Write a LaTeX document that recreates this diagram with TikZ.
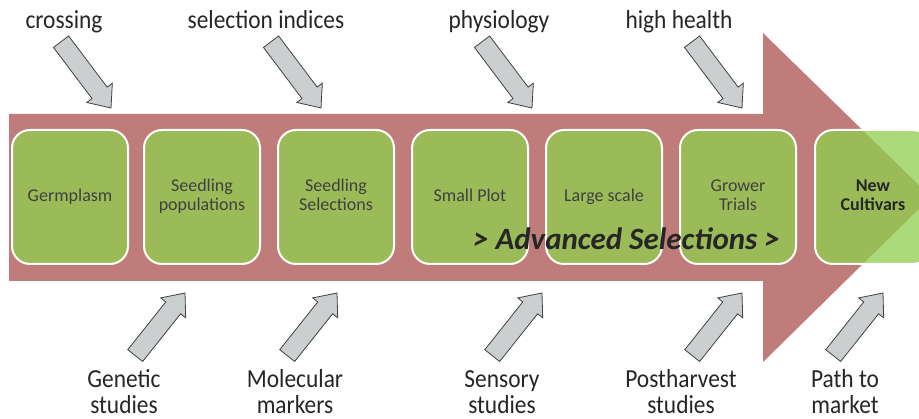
\documentclass[tikz,border=0pt]{standalone}
\usepackage{fontspec}
\setmainfont{Carlito}
\newfontfamily\labfont[FakeStretch=0.9]{Carlito}
\definecolor{arrowred}{RGB}{192,124,123}
\definecolor{boxgreen}{RGB}{155,187,89}
\definecolor{lightgreen}{RGB}{172,218,122}
\definecolor{grayfill}{RGB}{204,207,208}
\definecolor{grayline}{RGB}{64,64,64}
\definecolor{txt}{RGB}{38,38,38}
\definecolor{boxtxt}{RGB}{64,64,64}
\newcommand{\twolines}[2]{\vtop{\hbox to 0pt{\hss#1\hss}\hbox to 0pt{\hss#2\hss}}}
\newcommand{\blockarrow}[4]{% tip x, tip y, angle, length
  \begin{scope}[shift={(#1,#2)},rotate=#3]
    \draw[graya] (0,0) -- (-19,16) -- (-19,9.5) -- (-#4,9.5) -- (-#4,-9.5) -- (-19,-9.5) -- (-19,-16) -- cycle;
  \end{scope}}
\tikzset{
  gbox/.style={rectangle, rounded corners=18pt, fill=boxgreen, draw=white, line width=2pt,
    minimum width=116pt, minimum height=134pt, inner sep=0pt, text=boxtxt,
    font=\fontsize{18}{19}\selectfont},
  onel/.style={text height=12.6pt, text depth=4.5pt},
  twol/.style={text height=12.6pt, text depth=23.5pt},
  graya/.style={fill=grayfill, draw=grayline, line width=0.8pt, line join=miter},
  toplab/.style={anchor=base, inner sep=0pt, text=txt, font=\labfont\fontsize{26}{26}\selectfont},
  botlab/.style={anchor=base, inner sep=0pt, text=txt, font=\labfont\fontsize{26}{26}\selectfont},
}
\begin{document}
\begin{tikzpicture}[x=1pt,y=-1pt]
  \clip (0,0) rectangle (919,419);
  \fill[white] (0,0) rectangle (919,419);
  % big arrow
  \coordinate (ht) at (763,33);
  \coordinate (hp) at (931,197);
  \coordinate (hb) at (763,362);
  \fill[arrowred] (9,114) -- (763,114) -- (ht) -- (hp) -- (hb) -- (763,281) -- (9,281) -- cycle;
  % boxes
  \node[gbox, onel] (b1) at (70,197) {Germplasm};
  \node[gbox, twol] (b2) at (202,197) {\twolines{Seedling}{populations}};
  \node[gbox, twol] (b3) at (336,197) {\twolines{Seedling}{Selections}};
  \node[gbox, onel] (b4) at (470,197) {Small Plot};
  \node[gbox, onel] (b5) at (604,197) {Large scale};
  \node[gbox, twol] (b6) at (738,197) {\twolines{Grower}{Trials}};
  \node[gbox, twol, fill=lightgreen, text=txt, font=\bfseries\fontsize{18}{19}\selectfont,
        path picture={\fill[boxgreen] (ht) -- (hp) -- (hb) -- cycle;}]
        (b7) at (873,197) {\twolines{New}{Cultivars}};
  % advanced selections
  \node[anchor=base, inner sep=0pt, text=txt, font=\bfseries\itshape\fontsize{31}{31}\selectfont]
        (adv) at (626.5,250) {> Advanced Selections >};
  % top arrows
  \blockarrow{111}{108}{-53}{83}
  \blockarrow{321}{108}{-53}{83}
  \blockarrow{532}{108}{-53}{83}
  \blockarrow{742}{108}{-53}{83}
  % bottom arrows
  \blockarrow{185}{293}{51.5}{80}
  \blockarrow{337}{293}{51.5}{80}
  \blockarrow{542}{293}{51.5}{80}
  \blockarrow{742}{293}{51.5}{80}
  \blockarrow{883}{293}{51.5}{80}
  % top labels
  \node[toplab] (t1) at (64,28.5) {crossing};
  \node[toplab] (t2) at (266,28.5) {selection indices};
  \node[toplab] (t3) at (499,28.5) {physiology};
  \node[toplab] (t4) at (679,28.5) {high health};
  % bottom labels
  \node[botlab] (u1) at (124,387.5) {\twolines{Genetic}{studies}};
  \node[botlab] (u2) at (295,387.5) {\twolines{Molecular}{markers}};
  \node[botlab] (u3) at (502,387.5) {\twolines{Sensory}{studies}};
  \node[botlab] (u4) at (681,387.5) {\twolines{Postharvest}{studies}};
  \node[botlab] (u5) at (845,387.5) {\twolines{Path to}{market}};
\end{tikzpicture}
\end{document}
